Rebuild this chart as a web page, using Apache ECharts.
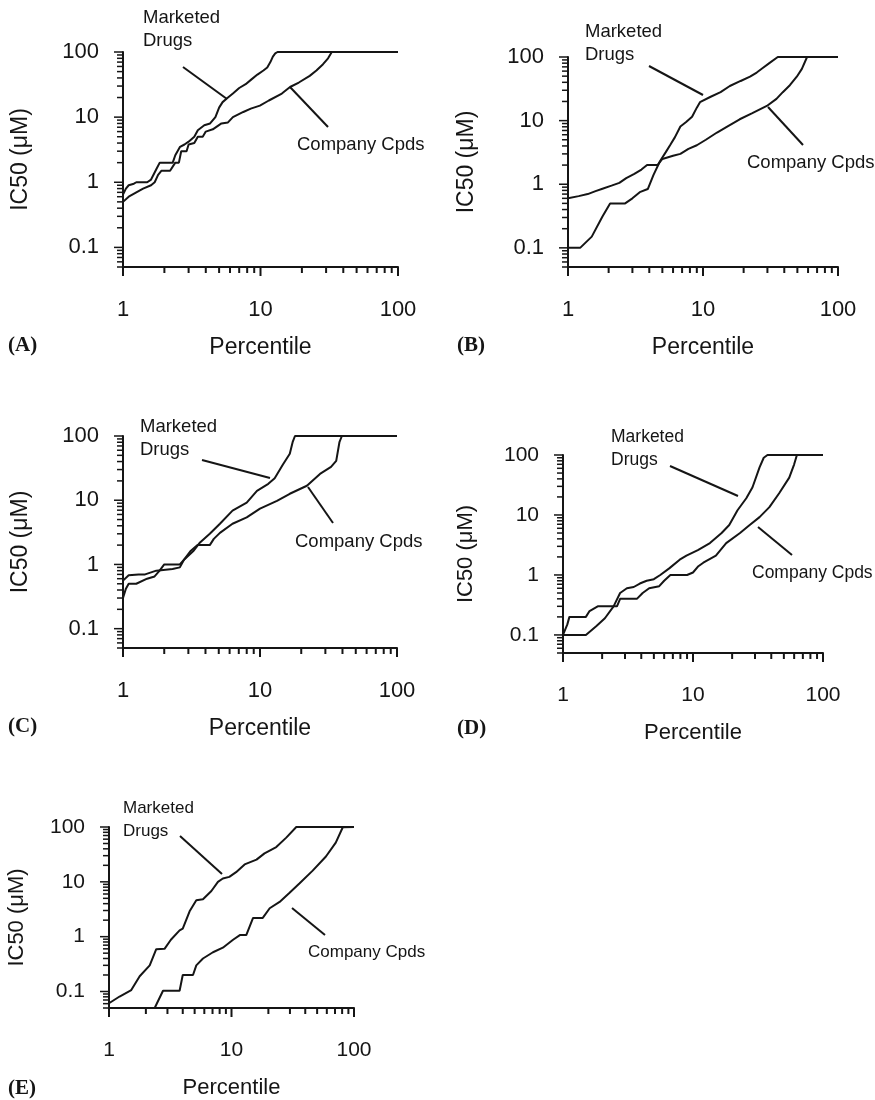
<!DOCTYPE html>
<html>
<head>
<meta charset="utf-8">
<script src="https://cdn.jsdelivr.net/npm/echarts@6/dist/echarts.min.js"></script>
<style>
html, body { margin: 0; padding: 0; background: #fff; }
#main { width: 875px; height: 1100px; }
</style>
</head>
<body>
<div id="main"></div>
<script>
// [percentile, IC50 uM]
var mdA = [[1,0.65],[1.05,0.8],[1.1,0.9],[1.2,0.95],[1.25,1.0],[1.5,1.0],[1.6,1.1],[1.75,1.6],[1.85,2.0],[2.3,2.0],[2.4,2.6],[2.6,3.5],[2.8,3.8],[3.0,4.2],[3.3,5.0],[3.5,6.3],[3.9,7.5],[4.3,8.0],[4.7,10],[5.0,14],[5.3,17],[5.8,20],[6.3,23],[7.0,28],[7.8,32],[8.6,38],[9.5,45],[10.5,52],[11.2,58],[11.8,70],[12.3,85],[12.8,95],[13.3,100],[100,100]];
var ccA = [[1,0.5],[1.1,0.6],[1.25,0.7],[1.4,0.8],[1.6,0.9],[1.7,1.0],[1.8,1.3],[1.9,1.5],[2.2,1.5],[2.4,2.0],[2.55,2.0],[2.65,3.0],[2.9,3.0],[3.0,3.8],[3.3,4.0],[3.5,5.0],[3.8,5.0],[4.0,6.0],[4.5,6.5],[5.2,8.0],[5.8,8.3],[6.3,10],[7.5,12],[8.5,13.5],[9.9,15],[11.5,18],[14.3,23],[16.4,29],[19,34],[22.8,43],[25.5,52],[28.5,65],[31,80],[33,100],[100,100]];

var mdB = [[1,0.1],[1.23,0.1],[1.5,0.15],[1.8,0.31],[2.05,0.5],[2.65,0.5],[3.0,0.6],[3.4,0.75],[3.9,0.84],[4.3,1.4],[4.8,2.3],[5.3,3.2],[5.7,4.1],[6.2,5.5],[6.8,8.1],[7.5,9.5],[8.3,11.5],[9.0,16],[9.5,19.5],[11.3,23.5],[13.5,28],[15.8,35],[19,42],[22.3,49],[25,57],[27.7,67],[31,80],[35.8,100],[100,100]];
var ccB = [[1,0.6],[1.2,0.65],[1.4,0.7],[1.6,0.78],[1.8,0.85],[2.1,0.95],[2.4,1.05],[2.7,1.25],[3.1,1.45],[3.5,1.7],[3.85,2.0],[4.6,2.0],[5.0,2.5],[6.0,2.8],[6.8,3.0],[7.8,3.6],[9,4.1],[10.5,5.0],[12.7,6.5],[15,8.0],[18.7,10.5],[23,13],[29.7,17],[35,22],[39,28],[44,36],[49.5,49],[54,65],[59,100],[100,100]];

var mdC = [[1,0.3],[1.05,0.42],[1.1,0.5],[1.25,0.5],[1.5,0.6],[1.7,0.65],[1.85,0.8],[2.0,1.0],[2.6,1.0],[2.75,1.15],[3.25,1.6],[3.65,2.2],[4.3,3.0],[5.1,4.3],[6.3,6.9],[8.0,9.2],[9.5,14],[11.5,18],[12.8,22],[14.7,36],[16.5,53],[17.3,80],[18,100],[100,100]];
var ccC = [[1,0.56],[1.1,0.68],[1.3,0.7],[1.45,0.7],[1.75,0.8],[2.3,0.85],[2.6,0.9],[2.8,1.2],[3.1,1.6],[3.5,2.0],[4.3,2.0],[4.6,2.5],[5.1,3.1],[6.3,4.3],[8.0,5.4],[10,7.4],[13.3,9.8],[16.5,12.6],[22,16.8],[27.4,25.7],[33,33],[36,41],[38,80],[39.6,100],[100,100]];

var mdD = [[1,0.1],[1.5,0.1],[1.8,0.14],[2.1,0.19],[2.45,0.3],[2.75,0.5],[3.1,0.6],[3.5,0.63],[3.9,0.72],[4.4,0.8],[5.0,0.85],[5.6,1.0],[6.6,1.3],[7.9,1.8],[8.9,2.1],[10.9,2.6],[13.5,3.4],[16.6,5.0],[19,6.8],[22,12],[25.7,19],[28.7,29],[32.5,62],[35,90],[37.4,100],[100,100]];
var ccD = [[1,0.1],[1.08,0.15],[1.12,0.2],[1.5,0.2],[1.6,0.25],[1.85,0.3],[2.6,0.3],[2.75,0.4],[3.7,0.4],[4.1,0.5],[4.6,0.6],[5.5,0.65],[6.0,0.8],[6.7,1.0],[9,1.0],[10,1.1],[11,1.4],[12,1.6],[15,2.1],[18,3.4],[23,5.0],[27,6.7],[32.5,9.2],[38.7,13.5],[46,23],[55,42],[60,70],[63,100],[100,100]];

var mdE = [[1,0.061],[1.22,0.081],[1.52,0.106],[1.78,0.19],[2.15,0.3],[2.43,0.59],[2.84,0.6],[3.2,0.88],[3.77,1.3],[4.0,1.4],[4.55,2.9],[5.16,4.6],[5.85,4.8],[6.85,6.8],[7.75,10],[8.5,11.5],[9.6,12.3],[10.9,15],[12.8,20.8],[16,25.4],[18.6,33],[23.2,43],[28,64],[33.8,100],[100,100]];
var ccE = [[2.36,0.05],[2.76,0.103],[3.77,0.103],[4.0,0.2],[4.85,0.2],[5.16,0.3],[5.85,0.4],[7.06,0.52],[8.5,0.63],[10.3,0.88],[11.7,1.07],[13.2,1.07],[15,2.2],[18,2.2],[20.5,3.3],[24.7,4.3],[29.8,6.3],[36,9.4],[46,16],[59,29],[71,52],[81,99],[82,100],[100,100]];

var xMajorTicks = [1, 10, 100];
var xMinorTicks = [2, 3, 4, 5, 6, 7, 8, 9, 20, 30, 40, 50, 60, 70, 80, 90];
var yMajorTicks = [0.1, 1, 10, 100];
var yMinorTicks = [0.05, 0.06, 0.07, 0.08, 0.09, 0.2, 0.3, 0.4, 0.5, 0.6, 0.7, 0.8, 0.9,
                   2, 3, 4, 5, 6, 7, 8, 9, 20, 30, 40, 50, 60, 70, 80, 90];
var X_MIN = 1, X_MAX = 100, Y_MIN = 0.05, Y_MAX = 100;

var xName = 'Percentile';
var yName = 'IC50 (\u03bcM)';
var mdName = 'Marketed\nDrugs';
var ccName = 'Company Cpds';
var letters = ['(A)', '(B)', '(C)', '(D)', '(E)'];
var mdData = [mdA, mdB, mdC, mdD, mdE];
var ccData = [ccA, ccB, ccC, ccD, ccE];

// layout, in px
var panels = [
    { grid: [123, 52, 275, 215], yGap: 91, letter: [8, 347], font: 22, note: 18.5,
      md: [143, 18], mdLine: [183, 67, 227, 99], cc: [297, 145], ccLine: [290, 87, 328, 127] },
    { grid: [568, 57, 270, 210], yGap: 90, letter: [457, 347], font: 22, note: 18.5,
      md: [585, 32], mdLine: [649, 66, 703, 95], cc: [747, 163], ccLine: [768, 107, 803, 145] },
    { grid: [123, 436, 274, 212], yGap: 91, letter: [8, 728], font: 22, note: 18.5,
      md: [140, 427], mdLine: [202, 460, 270, 478], cc: [295, 542], ccLine: [308, 487, 333, 523] },
    { grid: [563, 455, 260, 198], yGap: 86, letter: [457, 730], font: 21, note: 17.5,
      md: [611, 437], mdLine: [670, 466, 738, 496], cc: [752, 573], ccLine: [758, 527, 792, 555] },
    { grid: [109, 827, 245, 190], yGap: 81, letter: [8, 1090], font: 21, note: 17,
      md: [123, 808], mdLine: [180, 836, 222, 874], cc: [308, 952], ccLine: [292, 908, 325, 935] }
];

var INK = '#151515';
var SANS = '"Liberation Sans", Arial, sans-serif';
var SERIF = '"Liberation Serif", "Times New Roman", serif';

function isDecade(v) {
    var l = Math.log10(v);
    return Math.abs(l - Math.round(l)) < 1e-6;
}

function tickData(major, minor, fixed, onX) {
    var out = [];
    major.forEach(function (v) { out.push(onX ? [v, fixed, 1] : [fixed, v, 1]); });
    minor.forEach(function (v) { out.push(onX ? [v, fixed, 0] : [fixed, v, 0]); });
    return out;
}

function xTickItem(params, api) {
    var p = api.coord([api.value(0), api.value(1)]);
    var len = api.value(2) ? 9 : 6;
    return { type: 'line', shape: { x1: p[0], y1: p[1], x2: p[0], y2: p[1] + len },
             style: { stroke: INK, lineWidth: 2 } };
}
function yTickItem(params, api) {
    var p = api.coord([api.value(0), api.value(1)]);
    var len = api.value(2) ? 9 : 6;
    return { type: 'line', shape: { x1: p[0] - len, y1: p[1], x2: p[0], y2: p[1] },
             style: { stroke: INK, lineWidth: 1.5 } };
}

var grids = [], xAxes = [], yAxes = [], series = [], titles = [], graphics = [];

panels.forEach(function (p, i) {
    grids.push({ left: p.grid[0], top: p.grid[1], width: p.grid[2], height: p.grid[3] });
    xAxes.push({
        type: 'log', logBase: 10, gridIndex: i, min: X_MIN, max: X_MAX,
        name: xName, nameLocation: 'middle', nameGap: 69,
        nameTextStyle: { color: INK, fontSize: p.font + 1, fontFamily: SANS },
        axisLine: { onZero: false, lineStyle: { color: INK, width: 2 } },
        axisTick: { show: false },
        splitLine: { show: false },
        axisLabel: { margin: 32, color: INK, fontSize: p.font, fontFamily: SANS,
                     formatter: function (v) { return isDecade(v) ? String(+v.toPrecision(6)) : ''; } }
    });
    yAxes.push({
        type: 'log', logBase: 10, gridIndex: i, min: Y_MIN, max: Y_MAX,
        name: yName, nameLocation: 'middle', nameGap: p.yGap, nameRotate: 90,
        nameTextStyle: { color: INK, fontSize: p.font + 1, fontFamily: SANS },
        axisLine: { onZero: false, lineStyle: { color: INK, width: 2 } },
        axisTick: { show: false },
        splitLine: { show: false },
        axisLabel: { margin: 24, color: INK, fontSize: p.font, fontFamily: SANS,
                     showMinLabel: false,
                     formatter: function (v) { return isDecade(v) ? String(+v.toPrecision(6)) : ''; } }
    });
    series.push({
        name: 'Marketed Drugs', type: 'line', xAxisIndex: i, yAxisIndex: i,
        data: mdData[i], showSymbol: false, symbol: 'none', clip: true,
        lineStyle: { color: INK, width: 2 }
    });
    series.push({
        name: 'Company Cpds', type: 'line', xAxisIndex: i, yAxisIndex: i,
        data: ccData[i], showSymbol: false, symbol: 'none', clip: true,
        lineStyle: { color: INK, width: 2 }
    });
    series.push({
        type: 'custom', xAxisIndex: i, yAxisIndex: i, silent: true,
        encode: { x: 0, y: 1 },
        data: tickData(xMajorTicks, xMinorTicks, Y_MIN, true),
        renderItem: xTickItem
    });
    series.push({
        type: 'custom', xAxisIndex: i, yAxisIndex: i, silent: true,
        encode: { x: 0, y: 1 },
        data: tickData(yMajorTicks, yMinorTicks, X_MIN, false),
        renderItem: yTickItem
    });
    titles.push({
        text: letters[i], left: p.letter[0], top: p.letter[1] - 12, padding: 0,
        textStyle: { color: INK, fontFamily: SERIF, fontWeight: 'bold', fontSize: 21 }
    });
    graphics.push({
        type: 'text', x: p.md[0], y: p.md[1] - 11.5,
        style: { text: mdName, fill: INK, font: p.note + 'px ' + SANS, lineHeight: 23,
                 verticalAlign: 'top', textVerticalAlign: 'top' }
    });
    graphics.push({
        type: 'text', x: p.cc[0], y: p.cc[1],
        style: { text: ccName, fill: INK, font: p.note + 'px ' + SANS,
                 verticalAlign: 'middle', textVerticalAlign: 'middle' }
    });
    graphics.push({
        type: 'line', shape: { x1: p.mdLine[0], y1: p.mdLine[1], x2: p.mdLine[2], y2: p.mdLine[3] },
        style: { stroke: INK, lineWidth: 2 }
    });
    graphics.push({
        type: 'line', shape: { x1: p.ccLine[0], y1: p.ccLine[1], x2: p.ccLine[2], y2: p.ccLine[3] },
        style: { stroke: INK, lineWidth: 2 }
    });
});

var chart = echarts.init(document.getElementById('main'));
chart.setOption({
    backgroundColor: '#fff',
    animation: false,
    title: titles,
    grid: grids,
    xAxis: xAxes,
    yAxis: yAxes,
    series: series,
    graphic: graphics
});
</script>
</body>
</html>
